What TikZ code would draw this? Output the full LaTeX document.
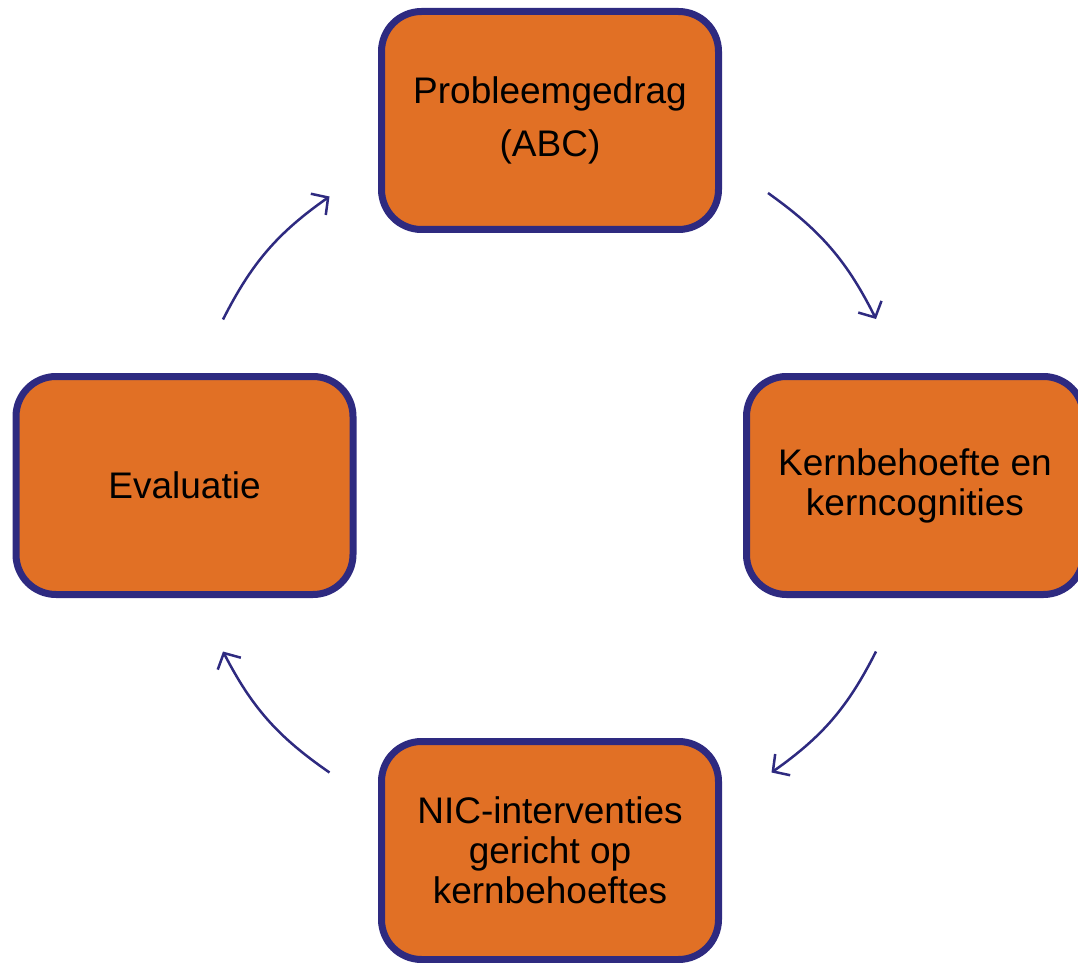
\documentclass[tikz,border=0pt]{standalone}
\usepackage{fontspec}
\setmainfont{Liberation Sans}
\usepackage{xcolor}
\usetikzlibrary{arrows.meta,shadows}

\definecolor{boxorange}{RGB}{225,112,37}
\definecolor{boxnavy}{RGB}{46,42,128}

\tikzset{
  stapbox/.style={rounded corners=20pt, fill=boxorange, draw=boxnavy,
    line width=3.5pt, minimum width=168.5pt, minimum height=109pt,
    align=center, inner sep=2pt,
    font=\fontsize{18.5pt}{20pt}\selectfont,
    drop shadow={opacity=0.18, shadow xshift=1pt, shadow yshift=-1.2pt}},
  cyclus/.style={draw=boxnavy, line width=1.25pt, bend left=14,
    -{Straight Barb[length=6pt,width=13pt,line width=1.25pt]}}
}

\begin{document}
\begin{tikzpicture}[x=0.5pt,y=-0.5pt]
  \useasboundingbox (0,0) rectangle (1078,963);

  \node[stapbox] (probleem) at (550,120.5)
  {Probleemgedrag\\[6.5pt](ABC)};
  \node[stapbox] (kern) at (915,485.5)
  {Kernbehoefte en\\kerncognities};
  \node[stapbox] (nic) at (550,850.5)
  {NIC-interventies\\gericht op\\kernbehoeftes};
  \node[stapbox] (evaluatie) at (184.5,485.5) {Evaluatie};

  % begin- en eindpunten van de pijlen
  \coordinate (p1) at ([shift={(23pt,20pt)}]probleem.south east);
  \coordinate (k1) at ([shift={(-19.5pt,27pt)}]kern.north);
  \coordinate (k2) at ([shift={(-19.5pt,-26.75pt)}]kern.south);
  \coordinate (n1) at ([shift={(24.75pt,-17.25pt)}]nic.north east);
  \coordinate (n2) at ([shift={(-24.25pt,-17.25pt)}]nic.north west);
  \coordinate (e1) at ([shift={(19.25pt,-26.75pt)}]evaluatie.south);
  \coordinate (e2) at ([shift={(19.25pt,26.75pt)}]evaluatie.north);
  \coordinate (p2) at ([shift={(-24.25pt,18.25pt)}]probleem.south west);

  \draw[cyclus] (p1) to (k1);
  \draw[cyclus] (k2) to (n1);
  \draw[cyclus] (n2) to (e1);
  \draw[cyclus] (e2) to (p2);

\end{tikzpicture}
\end{document}
